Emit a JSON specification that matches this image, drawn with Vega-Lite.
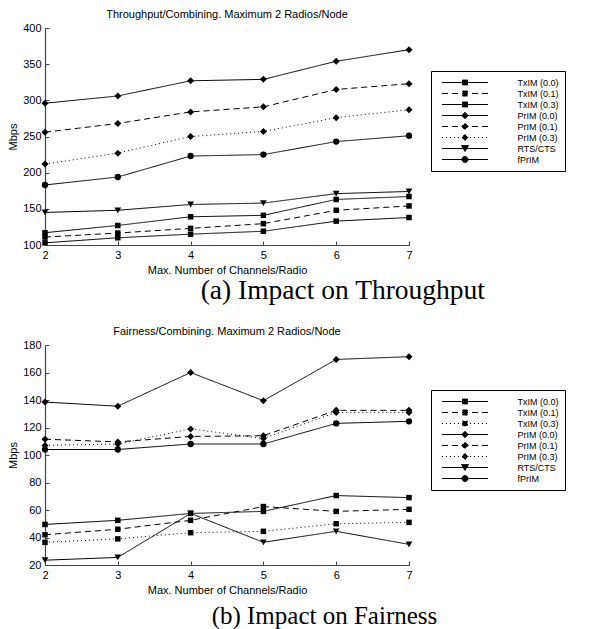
{
  "$schema": "https://vega.github.io/schema/vega-lite/v6.json",
  "padding": {"left": 7, "top": 9, "right": 0, "bottom": 0},
  "background": "white",
  "config": {
    "view": {"stroke": null},
    "font": "Liberation Sans",
    "axis": {"domainColor": "#444", "domainWidth": 1.2, "tickColor": "#444", "labelColor": "black", "titleColor": "black", "labelFont": "Liberation Sans", "labelFontSize": 11, "titleFont": "Liberation Sans", "titleFontSize": 11, "titleFontWeight": "normal", "grid": false, "tickSize": -4, "labelPadding": 8, "labelFlush": false},
    "title": {"font": "Liberation Sans", "fontSize": 11, "fontWeight": "normal", "color": "black"},
    "legend": {"title": null, "orient": "none", "strokeColor": "black", "padding": 6, "symbolSize": 100, "symbolStrokeWidth": 1, "symbolStrokeColor": "black", "symbolFillColor": "black", "labelFont": "Liberation Sans", "labelFontSize": 9, "labelColor": "black", "symbolOffset": 22.5, "labelOffset": 47, "rowPadding": 0, "labelLimit": 400}
  },
  "resolve": {"scale": {"strokeDash": "independent"}, "legend": {"strokeDash": "independent"}},
  "spacing": 21,
  "vconcat": [
    {
      "title": {"text": "(a) Impact on Throughput", "orient": "bottom", "font": "Liberation Serif", "fontSize": 27.5, "fontWeight": "normal", "dx": 193, "offset": 2},
      "vconcat": [
        {
          "title": {"text": "Throughput/Combining. Maximum 2 Radios/Node", "offset": 2},
          "width": 364,
          "height": 217,
          "data": {"values": [
            {"x": 2, "y": 117, "s": "TxIM (0.0)"}, {"x": 3, "y": 127, "s": "TxIM (0.0)"}, {"x": 4, "y": 139, "s": "TxIM (0.0)"}, {"x": 5, "y": 141, "s": "TxIM (0.0)"}, {"x": 6, "y": 163, "s": "TxIM (0.0)"}, {"x": 7, "y": 167, "s": "TxIM (0.0)"},
            {"x": 2, "y": 111, "s": "TxIM (0.1)"}, {"x": 3, "y": 116.5, "s": "TxIM (0.1)"}, {"x": 4, "y": 123, "s": "TxIM (0.1)"}, {"x": 5, "y": 129.5, "s": "TxIM (0.1)"}, {"x": 6, "y": 148, "s": "TxIM (0.1)"}, {"x": 7, "y": 154, "s": "TxIM (0.1)"},
            {"x": 2, "y": 103, "s": "TxIM (0.3)"}, {"x": 3, "y": 110, "s": "TxIM (0.3)"}, {"x": 4, "y": 115, "s": "TxIM (0.3)"}, {"x": 5, "y": 119, "s": "TxIM (0.3)"}, {"x": 6, "y": 133, "s": "TxIM (0.3)"}, {"x": 7, "y": 138, "s": "TxIM (0.3)"},
            {"x": 2, "y": 296, "s": "PrIM (0.0)"}, {"x": 3, "y": 306, "s": "PrIM (0.0)"}, {"x": 4, "y": 327, "s": "PrIM (0.0)"}, {"x": 5, "y": 329, "s": "PrIM (0.0)"}, {"x": 6, "y": 354, "s": "PrIM (0.0)"}, {"x": 7, "y": 370, "s": "PrIM (0.0)"},
            {"x": 2, "y": 256, "s": "PrIM (0.1)"}, {"x": 3, "y": 268, "s": "PrIM (0.1)"}, {"x": 4, "y": 284, "s": "PrIM (0.1)"}, {"x": 5, "y": 291, "s": "PrIM (0.1)"}, {"x": 6, "y": 315, "s": "PrIM (0.1)"}, {"x": 7, "y": 323, "s": "PrIM (0.1)"},
            {"x": 2, "y": 212, "s": "PrIM (0.3)"}, {"x": 3, "y": 227, "s": "PrIM (0.3)"}, {"x": 4, "y": 250, "s": "PrIM (0.3)"}, {"x": 5, "y": 257, "s": "PrIM (0.3)"}, {"x": 6, "y": 276, "s": "PrIM (0.3)"}, {"x": 7, "y": 287, "s": "PrIM (0.3)"},
            {"x": 2, "y": 145, "s": "RTS/CTS"}, {"x": 3, "y": 148, "s": "RTS/CTS"}, {"x": 4, "y": 156, "s": "RTS/CTS"}, {"x": 5, "y": 158, "s": "RTS/CTS"}, {"x": 6, "y": 171, "s": "RTS/CTS"}, {"x": 7, "y": 174, "s": "RTS/CTS"},
            {"x": 2, "y": 183, "s": "fPrIM"}, {"x": 3, "y": 194, "s": "fPrIM"}, {"x": 4, "y": 223, "s": "fPrIM"}, {"x": 5, "y": 225, "s": "fPrIM"}, {"x": 6, "y": 243, "s": "fPrIM"}, {"x": 7, "y": 251, "s": "fPrIM"}
          ]},
          "encoding": {
            "x": {"field": "x", "type": "quantitative", "scale": {"domain": [2, 7], "nice": false, "zero": false}, "axis": {"values": [2, 3, 4, 5, 6, 7], "format": "d", "title": "Max. Number of Channels/Radio"}},
            "y": {"field": "y", "type": "quantitative", "scale": {"domain": [100, 400], "nice": false, "zero": false}, "axis": {"values": [100, 150, 200, 250, 300, 350, 400], "format": "d", "title": "Mbps"}}
          },
          "layer": [
            {
              "mark": {"type": "line", "color": "black", "strokeWidth": 1},
              "encoding": {
                "strokeDash": {"field": "s", "type": "nominal",
                  "scale": {"domain": ["TxIM (0.0)", "TxIM (0.1)", "TxIM (0.3)", "PrIM (0.0)", "PrIM (0.1)", "PrIM (0.3)", "RTS/CTS", "fPrIM"], "range": [[1, 0], [6, 4], [1, 0], [1, 0], [6, 4], [1, 3], [1, 0], [1, 0]]},
                  "legend": {"legendX": 386, "legendY": 43,
                    "labelExpr": "datum.label + '\u00a0\u00a0\u00a0\u00a0\u00a0\u00a0\u00a0\u00a0\u00a0'",
                    "encode": {"symbols": {"update": {"fill": {"value": "black"}, "stroke": {"value": "black"}, "shape": {"signal": "indexof(datum.value,'TxIM')==0 ? 'M-4.6,0H4.6M-0.5,-0.5H0.5V0.5H-0.5Z' : indexof(datum.value,'PrIM')==0 ? 'M-4.6,0H4.6M0,-0.65L0.65,0L0,0.65L-0.65,0Z' : datum.value=='RTS/CTS' ? 'M-4.6,0H4.6M-0.7,-0.6H0.7L0,0.6Z' : 'M-4.6,0H4.6M-0.6,0A0.6,0.6,0,1,0,0.6,0A0.6,0.6,0,1,0,-0.6,0Z'"}}}}}
                }
              }
            },
            {"transform": [{"filter": "indexof(datum.s,'TxIM')==0"}], "mark": {"type": "point", "shape": "square", "filled": true, "color": "black", "opacity": 1, "size": 30}},
            {"transform": [{"filter": "indexof(datum.s,'PrIM')==0"}], "mark": {"type": "point", "shape": "diamond", "filled": true, "color": "black", "opacity": 1, "size": 49}},
            {"transform": [{"filter": "datum.s=='RTS/CTS'"}], "mark": {"type": "point", "shape": "triangle-down", "filled": true, "color": "black", "opacity": 1, "size": 45}},
            {"transform": [{"filter": "datum.s=='fPrIM'"}], "mark": {"type": "point", "shape": "circle", "filled": true, "color": "black", "opacity": 1, "size": 40}}
          ]
        }
      ]
    },
    {
      "title": {"text": "(b) Impact on Fairness", "orient": "bottom", "font": "Liberation Serif", "fontSize": 25, "fontWeight": "normal", "dx": 204, "offset": 9},
      "vconcat": [
        {
          "title": {"text": "Fairness/Combining. Maximum 2 Radios/Node", "offset": 2},
          "width": 364,
          "height": 220,
          "data": {"values": [
            {"x": 2, "y": 49.5, "s": "TxIM (0.0)"}, {"x": 3, "y": 52.5, "s": "TxIM (0.0)"}, {"x": 4, "y": 57.5, "s": "TxIM (0.0)"}, {"x": 5, "y": 59, "s": "TxIM (0.0)"}, {"x": 6, "y": 70.5, "s": "TxIM (0.0)"}, {"x": 7, "y": 69, "s": "TxIM (0.0)"},
            {"x": 2, "y": 42, "s": "TxIM (0.1)"}, {"x": 3, "y": 46, "s": "TxIM (0.1)"}, {"x": 4, "y": 52.5, "s": "TxIM (0.1)"}, {"x": 5, "y": 62.5, "s": "TxIM (0.1)"}, {"x": 6, "y": 59, "s": "TxIM (0.1)"}, {"x": 7, "y": 60.5, "s": "TxIM (0.1)"},
            {"x": 2, "y": 36.5, "s": "TxIM (0.3)"}, {"x": 3, "y": 39, "s": "TxIM (0.3)"}, {"x": 4, "y": 43.5, "s": "TxIM (0.3)"}, {"x": 5, "y": 44.5, "s": "TxIM (0.3)"}, {"x": 6, "y": 50, "s": "TxIM (0.3)"}, {"x": 7, "y": 51, "s": "TxIM (0.3)"},
            {"x": 2, "y": 138.5, "s": "PrIM (0.0)"}, {"x": 3, "y": 135.5, "s": "PrIM (0.0)"}, {"x": 4, "y": 160, "s": "PrIM (0.0)"}, {"x": 5, "y": 139.5, "s": "PrIM (0.0)"}, {"x": 6, "y": 169.5, "s": "PrIM (0.0)"}, {"x": 7, "y": 171.5, "s": "PrIM (0.0)"},
            {"x": 2, "y": 111.5, "s": "PrIM (0.1)"}, {"x": 3, "y": 109.5, "s": "PrIM (0.1)"}, {"x": 4, "y": 113.5, "s": "PrIM (0.1)"}, {"x": 5, "y": 114, "s": "PrIM (0.1)"}, {"x": 6, "y": 132.5, "s": "PrIM (0.1)"}, {"x": 7, "y": 132.5, "s": "PrIM (0.1)"},
            {"x": 2, "y": 107, "s": "PrIM (0.3)"}, {"x": 3, "y": 108, "s": "PrIM (0.3)"}, {"x": 4, "y": 119, "s": "PrIM (0.3)"}, {"x": 5, "y": 112, "s": "PrIM (0.3)"}, {"x": 6, "y": 131, "s": "PrIM (0.3)"}, {"x": 7, "y": 131, "s": "PrIM (0.3)"},
            {"x": 2, "y": 23.5, "s": "RTS/CTS"}, {"x": 3, "y": 25.5, "s": "RTS/CTS"}, {"x": 4, "y": 57.5, "s": "RTS/CTS"}, {"x": 5, "y": 36.5, "s": "RTS/CTS"}, {"x": 6, "y": 44.5, "s": "RTS/CTS"}, {"x": 7, "y": 35, "s": "RTS/CTS"},
            {"x": 2, "y": 104, "s": "fPrIM"}, {"x": 3, "y": 104, "s": "fPrIM"}, {"x": 4, "y": 108, "s": "fPrIM"}, {"x": 5, "y": 108, "s": "fPrIM"}, {"x": 6, "y": 123, "s": "fPrIM"}, {"x": 7, "y": 124.5, "s": "fPrIM"}
          ]},
          "encoding": {
            "x": {"field": "x", "type": "quantitative", "scale": {"domain": [2, 7], "nice": false, "zero": false}, "axis": {"values": [2, 3, 4, 5, 6, 7], "format": "d", "title": "Max. Number of Channels/Radio"}},
            "y": {"field": "y", "type": "quantitative", "scale": {"domain": [20, 180], "nice": false, "zero": false}, "axis": {"values": [20, 40, 60, 80, 100, 120, 140, 160, 180], "format": "d", "title": "Mbps"}}
          },
          "layer": [
            {
              "mark": {"type": "line", "color": "black", "strokeWidth": 1},
              "encoding": {
                "strokeDash": {"field": "s", "type": "nominal",
                  "scale": {"domain": ["TxIM (0.0)", "TxIM (0.1)", "TxIM (0.3)", "PrIM (0.0)", "PrIM (0.1)", "PrIM (0.3)", "RTS/CTS", "fPrIM"], "range": [[1, 0], [6, 4], [1, 3], [1, 0], [6, 4], [1, 3], [1, 0], [1, 0]]},
                  "legend": {"legendX": 386, "legendY": 45,
                    "labelExpr": "datum.label + '\u00a0\u00a0\u00a0\u00a0\u00a0\u00a0\u00a0\u00a0\u00a0'",
                    "encode": {"symbols": {"update": {"fill": {"value": "black"}, "stroke": {"value": "black"}, "shape": {"signal": "indexof(datum.value,'TxIM')==0 ? 'M-4.6,0H4.6M-0.5,-0.5H0.5V0.5H-0.5Z' : indexof(datum.value,'PrIM')==0 ? 'M-4.6,0H4.6M0,-0.65L0.65,0L0,0.65L-0.65,0Z' : datum.value=='RTS/CTS' ? 'M-4.6,0H4.6M-0.7,-0.6H0.7L0,0.6Z' : 'M-4.6,0H4.6M-0.6,0A0.6,0.6,0,1,0,0.6,0A0.6,0.6,0,1,0,-0.6,0Z'"}}}}}
                }
              }
            },
            {"transform": [{"filter": "indexof(datum.s,'TxIM')==0"}], "mark": {"type": "point", "shape": "square", "filled": true, "color": "black", "opacity": 1, "size": 30}},
            {"transform": [{"filter": "indexof(datum.s,'PrIM')==0"}], "mark": {"type": "point", "shape": "diamond", "filled": true, "color": "black", "opacity": 1, "size": 49}},
            {"transform": [{"filter": "datum.s=='RTS/CTS'"}], "mark": {"type": "point", "shape": "triangle-down", "filled": true, "color": "black", "opacity": 1, "size": 45}},
            {"transform": [{"filter": "datum.s=='fPrIM'"}], "mark": {"type": "point", "shape": "circle", "filled": true, "color": "black", "opacity": 1, "size": 40}}
          ]
        }
      ]
    }
  ]
}
